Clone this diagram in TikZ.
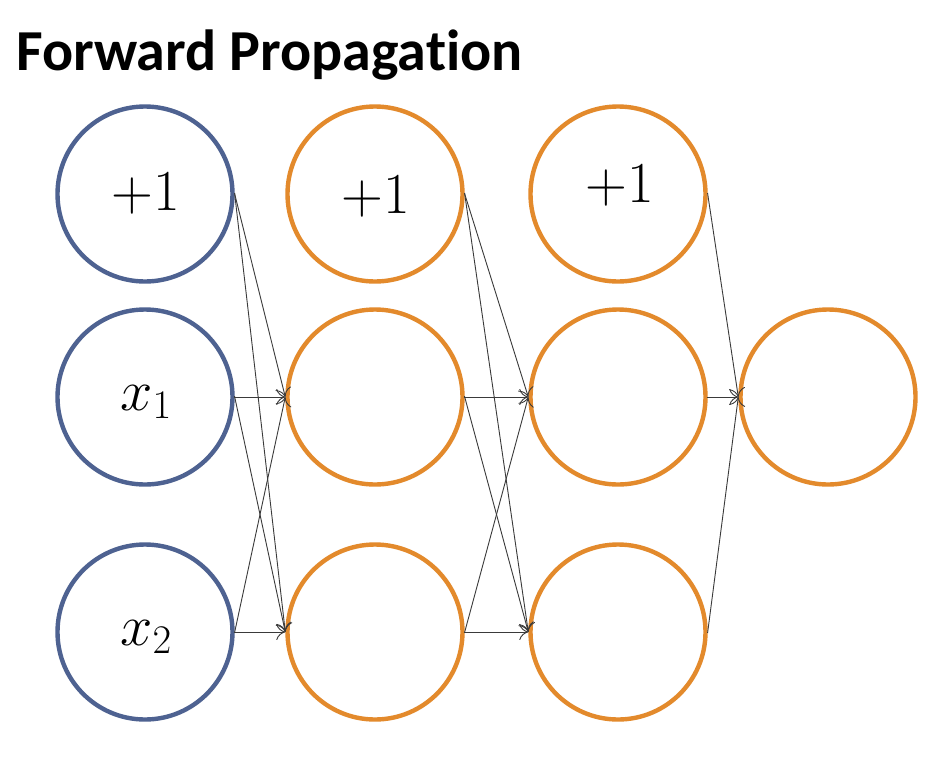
\RequirePackage{fix-cm}
\documentclass[tikz,border=0pt]{standalone}
\usepackage{fontspec}
\newfontfamily\titlefont[Ligatures={NoCommon}]{Carlito}
\usetikzlibrary{arrows.meta}
\definecolor{inblue}{HTML}{4E6291}
\definecolor{neuorange}{HTML}{E38A2C}
\definecolor{conncol}{HTML}{3A3A3A}
\tikzset{
  neuron/.style={circle, draw, line width=4.4pt, minimum size=175pt, inner sep=0pt},
  inneuron/.style={neuron, draw=inblue},
  hidneuron/.style={neuron, draw=neuorange},
  lbl/.style={font=\fontsize{58}{64}\selectfont, inner sep=0pt},
  conn/.style={draw=conncol, line width=0.9pt, -{To[length=9pt,width=16pt,line width=0.9pt]}, shorten <=-1pt},
}
\begin{document}
\begin{tikzpicture}[x=1pt,y=-1pt]
\useasboundingbox (0,0) rectangle (944,766);
\fill[white] (0,0) rectangle (944,766);
\node[anchor=base west, inner sep=0pt, font=\titlefont\bfseries\fontsize{58}{62}\selectfont] (title) at (16,70) {Forward Propagation};

\node[inneuron] (a1) at (145,194) {};
\node[inneuron] (a2) at (145,397) {};
\node[inneuron] (a3) at (145,632) {};
\node[hidneuron] (b1) at (375,194) {};
\node[hidneuron] (b2) at (375,397) {};
\node[hidneuron] (b3) at (375,632) {};
\node[hidneuron] (c1) at (618,194) {};
\node[hidneuron] (c2) at (618,397) {};
\node[hidneuron] (c3) at (618,632) {};
\node[hidneuron] (d1) at (828,397) {};

\node[lbl] (la1) at (146,194) {$+1$};
\node[lbl] (la2) at (146,402) {$x_1$};
\node[lbl] (la3) at (146,637) {$x_2$};
\node[lbl] (lb1) at (376,197) {$+1$};
\node[lbl] (lc1) at (620,186) {$+1$};

\foreach \s in {a1,a2,a3}{
  \foreach \t in {b2,b3}{
    \draw[conn] (\s.east) -- (\t.west);
  }
}
\foreach \s in {b1,b2,b3}{
  \foreach \t in {c2,c3}{
    \draw[conn] (\s.east) -- (\t.west);
  }
}
\foreach \s in {c1,c2,c3}{
  \draw[conn] (\s.east) -- (d1.west);
}
\end{tikzpicture}
\end{document}
